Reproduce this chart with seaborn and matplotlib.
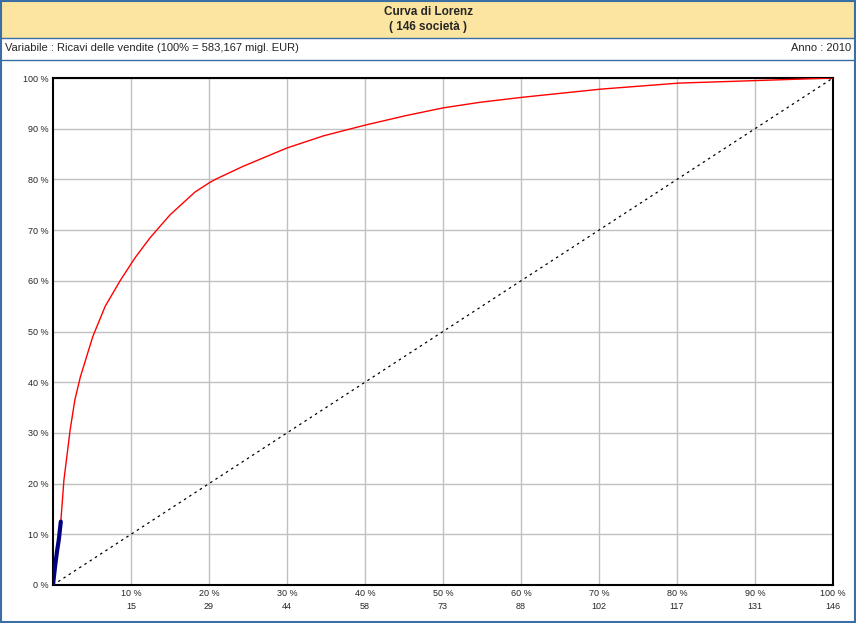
import pandas as pd
import matplotlib.pyplot as plt
import seaborn as sns
from matplotlib.patches import Rectangle
from matplotlib.lines import Line2D

# Lorenz curve (% of companies, % of cumulative revenue)
pct_companies = [0, 1.0, 1.4, 2.2, 2.8, 3.5, 5.1, 6.7, 8.6, 10.5, 12.4, 13.3, 15.0,
                 18.2, 20.0, 20.8, 24.4, 30.0, 34.7, 40.0, 45.3, 50.0,
                 54.7, 60.2, 70.2, 80.3, 90.3, 100.0]
pct_revenue = [0, 12.5, 20.7, 30.6, 36.5, 41.0, 49.0, 55.0, 60.0, 64.5, 68.4, 70.0, 73.0,
               77.5, 79.3, 80.0, 82.6, 86.2, 88.6, 90.7, 92.6, 94.1,
               95.2, 96.2, 97.8, 99.0, 99.5, 100.0]

# highlighted first segment (blue)
top_x = [0, 0.25, 0.5, 0.75, 1.0]
top_y = [0, 3.5, 6.5, 9.0, 12.5]

equal_line = [0, 100]

x_ticks = [10, 20, 30, 40, 50, 60, 70, 80, 90, 100]
x_counts = [15, 29, 44, 58, 73, 88, 102, 117, 131, 146]
y_ticks = [0, 10, 20, 30, 40, 50, 60, 70, 80, 90, 100]

title = "Curva di Lorenz"
subtitle = "( 146 società )"
variable_label = "Variabile : Ricavi delle vendite (100% = 583,167 migl. EUR)"
year_label = "Anno : 2010"

sns.set_style("white")
plt.rcParams['font.family'] = ['Liberation Sans', 'DejaVu Sans']

W, H = 856, 623
fig = plt.figure(figsize=(W / 100, H / 100), dpi=100)
fig.patch.set_facecolor("white")

# header bands
border = "#3A6EA5"
fig.patches.append(Rectangle((0, (H - 38) / H), 1, 38 / H, transform=fig.transFigure,
                             facecolor="#FCE5A0", edgecolor="none", zorder=0))
for yy in [H - 38, H - 60]:
    fig.lines.append(Line2D([0, 1], [yy / H, yy / H], transform=fig.transFigure,
                            color=border, lw=1))
fig.patches.append(Rectangle((0.001, 0.001), 0.998, 0.998, transform=fig.transFigure,
                             facecolor="none", edgecolor=border, lw=1.5))

fig.text(0.5, (H - 12) / H, title, ha="center", va="center", fontsize=8.5, fontweight="bold")
fig.text(0.5, (H - 27) / H, subtitle, ha="center", va="center", fontsize=8.5, fontweight="bold")
fig.text(5 / W, (H - 48) / H, variable_label, ha="left", va="center", fontsize=8)
fig.text(851 / W, (H - 48) / H, year_label, ha="right", va="center", fontsize=8)

ax = fig.add_axes([53 / W, 38 / H, 780 / W, 507 / H])

sns.lineplot(x=equal_line, y=equal_line, ax=ax, color="black", lw=0.9,
             linestyle=(0, (2, 3)), zorder=2)
sns.lineplot(x=pct_companies, y=pct_revenue, ax=ax, color="red", lw=1, zorder=3,
             sort=False)
sns.lineplot(x=top_x, y=top_y, ax=ax, color="#000080", lw=3, zorder=4, sort=False)

ax.set_xlim(0, 100)
ax.set_ylim(0, 100)
ax.set_xticks(x_ticks)
ax.set_xticklabels([f"{t} %\n{c}" for t, c in zip(x_ticks, x_counts)], fontsize=6.5,
                   linespacing=1.5)
ax.set_yticks(y_ticks)
ax.set_yticklabels([f"{t} %" for t in y_ticks], fontsize=6.5)
ax.tick_params(length=0, pad=3)
ax.grid(True, color="#C0C0C0", lw=1)
ax.set_axisbelow(True)
for s in ax.spines.values():
    s.set_visible(True)
    s.set_color("black")
    s.set_linewidth(1.5)
ax.set_xlabel("")
ax.set_ylabel("")

fig.savefig("out.png", dpi=100)
